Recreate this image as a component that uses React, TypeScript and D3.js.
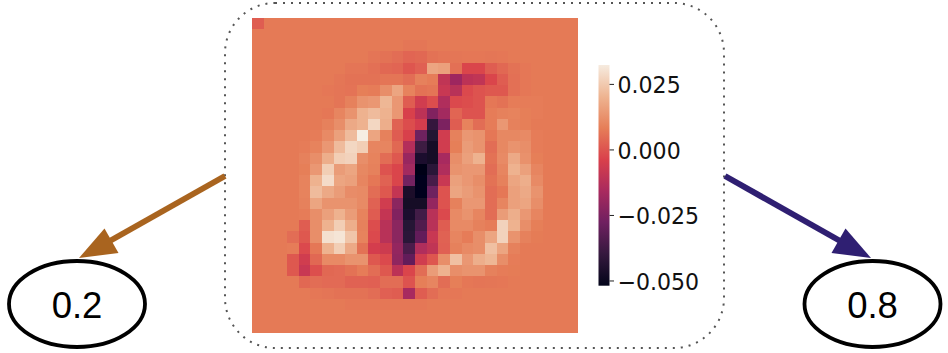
import * as d3 from 'd3'
import React, { useEffect, useRef } from 'react';

// Heatmap values, in thousandths (28 x 28)
const heatRows = [
  [2, 7.5, 7.5, 7.5, 7.5, 7.5, 7.5, 7.5, 7.5, 7.5, 7.5, 7.5, 7.5, 7.5, 7.5, 7.5, 7.5, 7.5, 7.5, 7.5, 7.5, 7.5, 7.5, 7.5, 7.5, 7.5, 7.5, 7.5],
  [7.5, 7.5, 7.5, 7.5, 7.5, 7.5, 7.5, 7.5, 7.5, 7.5, 7.5, 7.5, 7.5, 7.5, 7.5, 7.5, 7.5, 7.5, 7.5, 7.5, 7.5, 7.5, 7.5, 7.5, 7.5, 7.5, 7.5, 7.5],
  [7.5, 7.5, 7.5, 7.5, 7.5, 7.5, 7.5, 7.5, 7.5, 7.5, 7.5, 7.5, 7.5, 6.8, 6.8, 7.5, 7.5, 7.5, 7.5, 7.5, 7.5, 7.5, 7.5, 7.5, 7.5, 7.5, 7.5, 7.5],
  [7.5, 7.5, 7.5, 7.5, 7.5, 7.5, 7.5, 7.5, 7.5, 7.5, 6.5, 6, 5, 3.5, 4, 6, 6.5, 6.8, 7, 7, 6.8, 7, 7.5, 7.5, 7.5, 7.5, 7.5, 7.5],
  [7.5, 7.5, 7.5, 7.5, 7.5, 7.5, 7.5, 7.5, 6.5, 6.5, 5.5, 4, 3.5, 0.5, 2.5, 17, 16, 5.5, -3, -3, 2, 4, 6, 7, 7.5, 7.5, 7.5, 7.5],
  [7.5, 7.5, 7.5, 7.5, 7.5, 7.5, 7.5, 6.8, 6, 6, 6, 6.5, 6.5, 5, 9, 8, -10, -18, -11, -10, -3, 2, 5.5, 7, 7.5, 7.5, 7.5, 7.5],
  [7.5, 7.5, 7.5, 7.5, 7.5, 7.5, 7, 6.5, 6.3, 8.5, 8, 12, 17, 9.5, 6, 6.5, -8, -12, -2, 0, 1, 1, 5.5, 7, 7.5, 7.5, 7.5, 7.5],
  [7.5, 7.5, 7.5, 7.5, 7.5, 7.5, 7.5, 6.5, 9, 13, 14, 21, 14, 2, -6, -1, -14, -2, -1, 0, 7, 6, 8, 8, 8, 7.5, 7.5, 7.5],
  [7.5, 7.5, 7.5, 7.5, 7.5, 7.5, 7, 10, 13, 20, 22, 20, 14, -4, -11, -24, -17, 3.5, 0, 0, 8, 9, 9.5, 8.5, 8, 7.5, 7.5, 7.5],
  [7.5, 7.5, 7.5, 7.5, 7.5, 7.5, 9, 12, 18, 20, 28, 19, 3, -1, -5, -40, -25, 2, 9.5, 5, 8, 14, 9, 8.5, 7.5, 7.5, 7.5, 7.5],
  [7.5, 7.5, 7.5, 7.5, 7.5, 8, 11, 16, 22, 33, 17, 9, 1.5, -4, -28, -44, -6, 9, 14, 13, 7, 10.5, 10.5, 11, 8, 7.5, 7.5, 7.5],
  [7.5, 7.5, 7.5, 7.5, 8, 9.5, 14, 22, 28, 26, 10, 10, 4, -13, -38, -48, -6, 8.5, 15, 13, 5, 10.5, 13, 12, 8, 7.5, 7.5, 7.5],
  [7.5, 7.5, 7.5, 7.5, 9, 12, 19, 26, 27, 12, 9.5, 5, 1, -19, -45, -47, -16, 12, 16, 20, 6, 11, 18, 12.5, 8.5, 7.5, 7.5, 7.5],
  [7.5, 7.5, 7.5, 7.5, 8.5, 14, 26, 15, 17, 10.5, 9, 0, -3, -17, -52, -42, -14, 13, 14, 14, 5, 10, 20, 16, 10, 7.5, 7.5, 7.5],
  [7.5, 7.5, 7.5, 7.5, 9.5, 20, 29, 17, 16, 10, 7, 3, -3, -27, -51, -36, -8, 16, 14, 12, 6, 9, 17, 19, 11, 7.5, 7.5, 7.5],
  [7.5, 7.5, 7.5, 7.5, 9.5, 22, 18, 15, 11.5, 11, 5, 1, -9, -46, -51, -28, 0, 17, 15, 13, 5, 7, 16, 18, 13, 7.5, 7.5, 7.5],
  [7.5, 7.5, 7.5, 7.5, 9, 17, 13, 13, 13, 11, 3, -6, -22, -48, -48, -20, 0, 9, 14, 14, 5, 10, 16, 17, 12, 7.5, 7.5, 7.5],
  [7.5, 7.5, 7.5, 7.5, 8, 12, 16, 20, 15, 9.5, 1.5, -9, -24, -45, -37, -12, -2, 11, 13, 10, 5, 15, 19, 14, 10, 7.5, 7.5, 7.5],
  [7.5, 7.5, 7.5, 7.5, 2, 12, 20, 26, 19, 9, -1, -12, -22, -43, -34, -12, 2, 11, 11, 9, 8, 27, 20, 12, 8.5, 7.5, 7.5, 7.5],
  [7.5, 7.5, 7.5, 5, 1, 12, 30, 31, 24, 9.5, -2, -12, -22, -42, -30, -8, 3, 10, 8, 12, 17, 27, 13, 9, 7.8, 7.5, 7.5, 7.5],
  [7.5, 7.5, 7.5, 8, -2, 7, 20, 26, 18, 6, -5, -7, -20, -35, -14, -10, 2.5, 9, 11, 12, 23, 17, 9, 7.5, 7.5, 7.5, 7.5, 7.5],
  [7.5, 7.5, 7.5, 1, -6, 4, 11, 11, 13, 13, 1, -2, -21, -30, -6, 0.5, 12, 23, 14, 19, 21, 12, 8, 7.5, 7.5, 7.5, 7.5, 7.5],
  [7.5, 7.5, 7.5, 1, -8, -0.5, 4, 4.5, 6, 8, 5, 1, -11, -3, 5, 15, 20, 12, 13, 13, 9, 8, 7.8, 7.5, 7.5, 7.5, 7.5, 7.5],
  [7.5, 7.5, 7.5, 7.5, 4, 5, 4.5, 4.5, 3, 3, 2.5, 5, 5, 0, 8.5, 10, 5, 8.5, 7, 6.5, 6.8, 7, 7.5, 7.5, 7.5, 7.5, 7.5, 7.5],
  [7.5, 7.5, 7.5, 7.5, 7.5, 7, 6.5, 6, 6, 6, 5, 2.5, 2, -16, 2, 5, 7, 7, 7.5, 7.5, 7.5, 7.5, 7.5, 7.5, 7.5, 7.5, 7.5, 7.5],
  [7.5, 7.5, 7.5, 7.5, 7.5, 7.5, 7.5, 7.5, 7, 7, 7, 7, 7, 7, 7, 7.5, 7.5, 7.5, 7.5, 7.5, 7.5, 7.5, 7.5, 7.5, 7.5, 7.5, 7.5, 7.5],
  [7.5, 7.5, 7.5, 7.5, 7.5, 7.5, 7.5, 7.5, 7.5, 7.5, 7.5, 7.5, 7.5, 7.5, 7.5, 7.5, 7.5, 7.5, 7.5, 7.5, 7.5, 7.5, 7.5, 7.5, 7.5, 7.5, 7.5, 7.5],
  [7.5, 7.5, 7.5, 7.5, 7.5, 7.5, 7.5, 7.5, 7.5, 7.5, 7.5, 7.5, 7.5, 7.5, 7.5, 7.5, 7.5, 7.5, 7.5, 7.5, 7.5, 7.5, 7.5, 7.5, 7.5, 7.5, 7.5, 7.5],
];

const colorbarTicks = [0.025, 0, -0.025, -0.05];
const valueDomain = [-0.0518, 0.0324];

// Rocket colormap, muted a little to match the picture
const rocket = ['#03051a', '#35193e', '#6f2060', '#a92a5e', '#d9404b', '#e67e58', '#eeb491', '#f6ebdf'];

const outcomes = [
  { label: '0.2', color: '#a9641f', side: 'left' },
  { label: '0.8', color: '#2f1f72', side: 'right' },
];

const App = () => {
  const myRef = useRef<SVGSVGElement>(null);

  useEffect(() => {
    const svg = d3.select(myRef.current);
    svg.selectAll('*').remove();

    const color = d3.scaleLinear<string>()
      .domain(rocket.map((_, i) => valueDomain[0] + (valueDomain[1] - valueDomain[0]) * i / (rocket.length - 1)))
      .range(rocket)
      .interpolate(d3.interpolateRgb);

    const defs = svg.append('defs');

    // Dotted box
    svg.append('rect')
      .attr('x', 225).attr('y', 3)
      .attr('width', 499).attr('height', 345)
      .attr('rx', 50).attr('ry', 50)
      .attr('fill', 'none')
      .attr('stroke', '#555')
      .attr('stroke-width', 2)
      .attr('stroke-dasharray', '2 6');

    // Heatmap, softened slightly like the resampled image
    defs.append('filter')
      .attr('id', 'soft')
      .attr('x', '-2%').attr('y', '-2%')
      .attr('width', '104%').attr('height', '104%')
      .append('feGaussianBlur')
      .attr('stdDeviation', 0.6);

    const x = d3.scaleBand<number>().domain(d3.range(28)).range([252, 578]);
    const y = d3.scaleBand<number>().domain(d3.range(28)).range([17.5, 332.7]);

    svg.append('g')
      .attr('filter', 'url(#soft)')
      .attr('shape-rendering', 'crispEdges')
      .selectAll('g')
      .data(heatRows)
      .enter()
      .append('g')
      .selectAll('rect')
      .data((row, r) => row.map((v, c) => ({ v, c, r })))
      .enter()
      .append('rect')
      .attr('x', d => x(d.c)!)
      .attr('y', d => y(d.r)!)
      .attr('width', x.bandwidth() + 0.3)
      .attr('height', y.bandwidth() + 0.3)
      .attr('fill', d => color(d.v / 1000));

    // Colorbar
    const cbar = d3.scaleLinear().domain(valueDomain).range([285.7, 65]);
    const gradient = defs.append('linearGradient')
      .attr('id', 'rocket')
      .attr('x1', 0).attr('x2', 0).attr('y1', 1).attr('y2', 0);
    rocket.forEach((c, i) => {
      gradient.append('stop')
        .attr('offset', i / (rocket.length - 1))
        .attr('stop-color', c);
    });
    svg.append('rect')
      .attr('x', 598.5).attr('y', cbar.range()[1])
      .attr('width', 11)
      .attr('height', cbar.range()[0] - cbar.range()[1])
      .attr('fill', 'url(#rocket)');

    const ticks = svg.append('g').selectAll('g')
      .data(colorbarTicks)
      .enter()
      .append('g')
      .attr('transform', d => `translate(0, ${cbar(d)})`);
    ticks.append('line')
      .attr('x1', 609.5).attr('x2', 614)
      .attr('stroke', '#222')
      .attr('stroke-width', 1);
    // Glyphs are a bit taller than wide in the picture
    ticks.append('text')
      .attr('transform', 'translate(617.5, 8.8) scale(0.96, 1)')
      .attr('font-family', 'DejaVu Sans')
      .attr('font-size', 23)
      .attr('fill', '#111')
      .text(d => d3.format('.3f')(d));

    // Arrows and the outcome ellipses
    outcomes.forEach(o => {
      const flip = (v: number) => (o.side === 'left' ? v : 950 - v);
      svg.append('line')
        .attr('x1', flip(225)).attr('y1', 176)
        .attr('x2', flip(108)).attr('y2', 242)
        .attr('stroke', o.color)
        .attr('stroke-width', 6);
      svg.append('path')
        .attr('d', d3.line()([[flip(79), 258], [flip(104.5), 228.5], [flip(118.5), 253]]) + 'Z')
        .attr('fill', o.color);

      svg.append('ellipse')
        .attr('cx', o.side === 'left' ? 77 : 872.5).attr('cy', 304)
        .attr('rx', 68).attr('ry', 43)
        .attr('fill', 'none')
        .attr('stroke', '#000')
        .attr('stroke-width', 3.8);
      svg.append('text')
        .attr('x', o.side === 'left' ? 77 : 872.5).attr('y', 317.5)
        .attr('text-anchor', 'middle')
        .attr('font-family', 'Liberation Sans')
        .attr('font-size', 36.5)
        .attr('fill', '#000')
        .text(o.label);
    });
  }, []);

  return <svg ref={myRef} width={948} height={353} style={{ position: 'absolute', left: 0, top: 0 }} />;
}

export default App;
